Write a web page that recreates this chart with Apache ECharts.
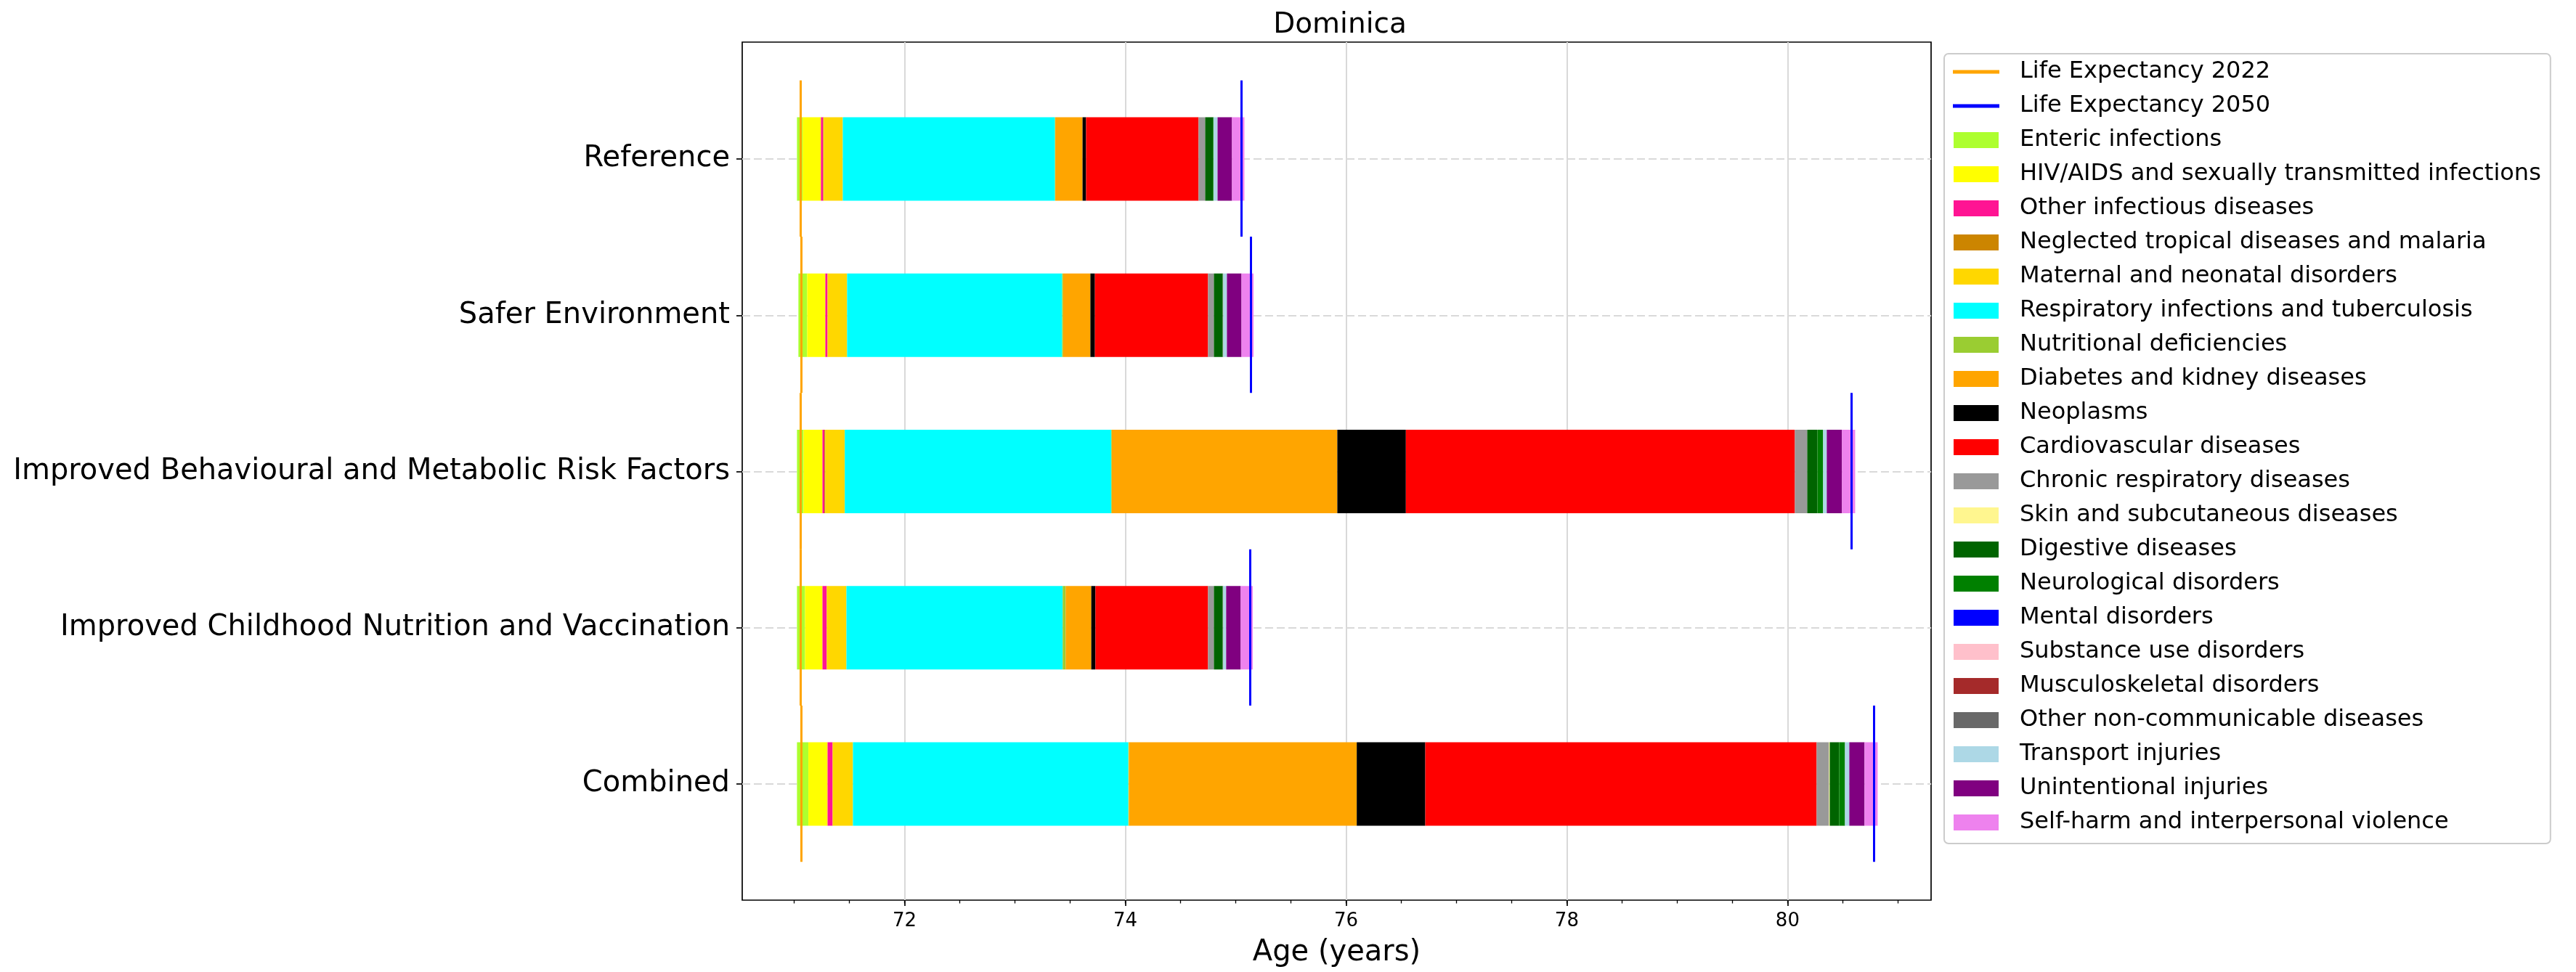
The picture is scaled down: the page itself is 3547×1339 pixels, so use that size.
<!DOCTYPE html>
<html>
<head>
<meta charset="utf-8">
<script src="https://cdn.jsdelivr.net/npm/echarts@6/dist/echarts.min.js"></script>
<style>
html,body{margin:0;padding:0;background:#fff;}
#chart{width:3547px;height:1339px;}
</style>
</head>
<body>
<div id="chart"></div>
<script>
// ---------- DATA (scenarios listed top to bottom) ----------
const scenarios = ['Reference', 'Safer Environment', 'Improved Behavioural and Metabolic Risk Factors', 'Improved Childhood Nutrition and Vaccination', 'Combined'];
const barStart = [71.026, 71.039, 71.026, 71.026, 71.026];
const lifeExp2022 = [71.056, 71.066, 71.055, 71.055, 71.066];
const lifeExp2050 = [75.050, 75.138, 80.581, 75.132, 80.783];

const causeNames = ['Enteric infections', 'HIV/AIDS and sexually transmitted infections', 'Other infectious diseases', 'Neglected tropical diseases and malaria', 'Maternal and neonatal disorders', 'Respiratory infections and tuberculosis', 'Nutritional deficiencies', 'Diabetes and kidney diseases', 'Neoplasms', 'Cardiovascular diseases', 'Chronic respiratory diseases', 'Skin and subcutaneous diseases', 'Digestive diseases', 'Neurological disorders', 'Mental disorders', 'Substance use disorders', 'Musculoskeletal disorders', 'Other non-communicable diseases', 'Transport injuries', 'Unintentional injuries', 'Self-harm and interpersonal violence'];

const enteric        = [0.051, 0.079, 0.059, 0.073, 0.103];
const hivAids        = [0.166, 0.165, 0.172, 0.158, 0.174];
const otherInfect    = [0.020, 0.020, 0.017, 0.039, 0.046];
const ntdMalaria     = [0.005, 0.000, 0.009, 0.000, 0.000];
const maternal       = [0.173, 0.177, 0.176, 0.178, 0.184];
const respiratory    = [1.922, 1.948, 2.414, 1.959, 2.495];
const nutritional    = [0.003, 0.009, 0.005, 0.027, 0.005];
const diabetes       = [0.247, 0.247, 2.043, 0.232, 2.064];
const neoplasms      = [0.032, 0.041, 0.621, 0.038, 0.621];
const cardio         = [1.019, 1.025, 3.524, 1.020, 3.545];
const chronicResp    = [0.060, 0.053, 0.112, 0.053, 0.112];
const skin           = [0.000, 0.000, 0.000, 0.000, 0.007];
const digestive      = [0.072, 0.079, 0.092, 0.079, 0.085];
const neurological   = [0.004, 0.002, 0.052, 0.002, 0.053];
const mental         = [0.000, 0.000, 0.000, 0.000, 0.000];
const substance      = [0.000, 0.000, 0.000, 0.000, 0.000];
const musculo        = [0.000, 0.000, 0.000, 0.000, 0.000];
const otherNCD       = [0.000, 0.004, 0.000, 0.004, 0.000];
const transport      = [0.036, 0.033, 0.033, 0.026, 0.039];
const unintentional  = [0.131, 0.132, 0.138, 0.132, 0.138];
const selfHarm       = [0.112, 0.109, 0.119, 0.109, 0.119];

const causeValues = [enteric, hivAids, otherInfect, ntdMalaria, maternal, respiratory, nutritional, diabetes, neoplasms, cardio, chronicResp, skin, digestive, neurological, mental, substance, musculo, otherNCD, transport, unintentional, selfHarm];

const causeColors = ['#adff2f', '#ffff00', '#ff1493', '#cc8500', '#ffd700', '#00ffff', '#9acd32', '#ffa500', '#000000', '#ff0000', '#999999', '#fff68f', '#006400', '#008000', '#0000ff', '#ffc0cb', '#a52a2a', '#696969', '#add8e6', '#800080', '#ee82ee'];

const xTickLabels = [72, 74, 76, 78, 80];
const xMinorTicks = [71, 71.5, 72, 72.5, 73, 73.5, 74, 74.5, 75, 75.5, 76, 76.5, 77, 77.5, 78, 78.5, 79, 79.5, 80, 80.5, 81];

// ---------- CHART ----------
const FONT = 'DejaVu Sans';
const chart = echarts.init(document.getElementById('chart'), null, {renderer: 'canvas'});

const series = [];
series.push({
  name: '__base', type: 'bar', stack: 'total', xAxisIndex: 0, yAxisIndex: 0,
  data: barStart, barWidth: 115, clip: false, silent: true,
  itemStyle: {color: 'rgba(0,0,0,0)'}
});
causeNames.forEach((n, i) => {
  series.push({
    name: n, type: 'bar', stack: 'total', xAxisIndex: 0, yAxisIndex: 0,
    data: causeValues[i], barWidth: 115, clip: false,
    itemStyle: {color: causeColors[i]}
  });
});
function vlineData(vals) {
  return vals.map((v, i) => ({coords: [[v, i - 0.5], [v, i + 0.5]]}));
}
series.push({
  name: 'Life Expectancy 2022', type: 'lines', coordinateSystem: 'cartesian2d',
  xAxisIndex: 1, yAxisIndex: 1, z: 10,
  lineStyle: {color: '#ffa500', width: 3, opacity: 1},
  itemStyle: {color: '#ffa500'},
  data: vlineData(lifeExp2022)
});
series.push({
  name: 'Life Expectancy 2050', type: 'lines', coordinateSystem: 'cartesian2d',
  xAxisIndex: 1, yAxisIndex: 1, z: 10,
  lineStyle: {color: '#0000ff', width: 3, opacity: 1},
  itemStyle: {color: '#0000ff'},
  data: vlineData(lifeExp2050)
});

const lineIcon = 'path://M0,0h60v3h-60z';
const legendData = [
  {name: 'Life Expectancy 2022', icon: lineIcon, itemStyle: {color: '#ffa500'}},
  {name: 'Life Expectancy 2050', icon: lineIcon, itemStyle: {color: '#0000ff'}}
].concat(causeNames.map((n, i) => ({name: n, icon: 'rect', itemStyle: {color: causeColors[i]}})));

const X_MIN = 70.53, X_MAX = 81.30;

const option = {
  animation: false,
  backgroundColor: '#ffffff',
  textStyle: {fontFamily: FONT},
  title: {
    text: 'Dominica', left: 1840, top: 10, textAlign: 'center',
    textStyle: {fontFamily: FONT, fontSize: 39, fontWeight: 'normal', color: '#000', lineHeight: 39}
  },
  legend: {
    orient: 'vertical', left: 2677, top: 74,
    padding: [9, 13, 13, 12],
    borderColor: '#cccccc', borderWidth: 2, borderRadius: 6,
    backgroundColor: '#ffffff',
    itemWidth: 62, itemHeight: 22, itemGap: 15,
    selectedMode: false,
    textStyle: {fontFamily: FONT, fontSize: 32, color: '#000', lineHeight: 32, padding: [0, 0, 0, 24]},
    data: legendData
  },
  grid: [
    {left: 1022, right: 888, top: 219, bottom: 259, containLabel: false},
    {left: 1022, right: 888, top: 58, bottom: 99, containLabel: false,
     show: true, borderColor: '#000', borderWidth: 1.7, backgroundColor: 'rgba(0,0,0,0)', z: 0}
  ],
  xAxis: [
    {type: 'value', gridIndex: 0, min: X_MIN, max: X_MAX, show: false,
     axisLine: {show: false, onZero: false}, axisTick: {show: false}, axisLabel: {show: false}, splitLine: {show: false}},
    {type: 'value', gridIndex: 1, min: X_MIN, max: X_MAX, position: 'bottom',
     name: 'Age (years)', nameLocation: 'middle', nameGap: 53,
     nameTextStyle: {fontFamily: FONT, fontSize: 40, color: '#000'},
     axisLine: {show: false, onZero: false},
     axisTick: {show: true, length: 8, lineStyle: {color: '#000', width: 1.7}, customValues: xTickLabels},
     axisLabel: {show: true, fontFamily: FONT, fontSize: 26, color: '#000', margin: 16, customValues: xTickLabels},
     splitLine: {show: true, lineStyle: {color: '#d9d9d9', width: 2}}
    },
    {type: 'value', gridIndex: 1, min: X_MIN, max: X_MAX, position: 'bottom', offset: 0,
     axisLine: {show: false, onZero: false},
     axisTick: {show: true, length: 4.5, lineStyle: {color: '#000', width: 1.3}, customValues: xMinorTicks},
     axisLabel: {show: false},
     splitLine: {show: false}
    }
  ],
  yAxis: [
    {type: 'category', gridIndex: 0, data: scenarios, inverse: true, boundaryGap: false,
     axisLine: {show: false, onZero: false},
     axisTick: {show: true, length: 8, interval: 0, lineStyle: {color: '#000', width: 1.7}},
     axisLabel: {show: true, interval: 0, fontFamily: FONT, fontSize: 40, color: '#000', margin: 17, padding: [10, 0, 0, 0]},
     splitLine: {show: true, interval: 0, lineStyle: {color: '#d9d9d9', width: 2, type: [11, 5]}}
    },
    {type: 'value', gridIndex: 1, min: -0.745, max: 4.745, inverse: true,
     axisLine: {show: false, onZero: false}, axisTick: {show: false}, axisLabel: {show: false}, splitLine: {show: false}}
  ],
  series: series
};
chart.setOption(option);
</script>
</body>
</html>
